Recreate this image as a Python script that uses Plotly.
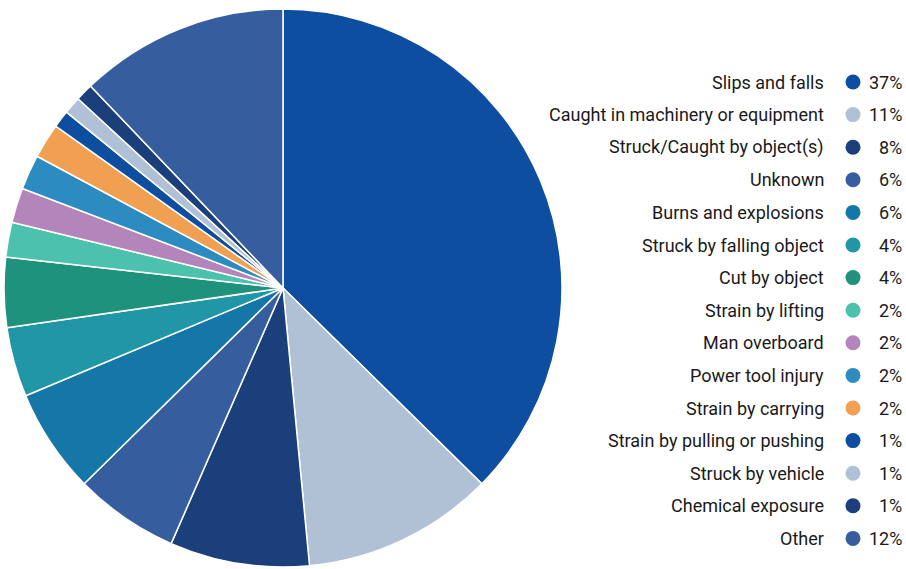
import plotly.graph_objects as go

W, H = 906, 569

categories = [
    "Slips and falls",
    "Caught in machinery or equipment",
    "Struck/Caught by object(s)",
    "Unknown",
    "Burns and explosions",
    "Struck by falling object",
    "Cut by object",
    "Strain by lifting",
    "Man overboard",
    "Power tool injury",
    "Strain by carrying",
    "Strain by pulling or pushing",
    "Struck by vehicle",
    "Chemical exposure",
    "Other",
]
shares = [37, 11, 8, 6, 6, 4, 4, 2, 2, 2, 2, 1, 1, 1, 12]
colors = [
    "#0E4EA0", "#B0C1D6", "#1A3F7A", "#365E9E", "#1477A8",
    "#2196A6", "#1E927C", "#4BC1AE", "#B385BA", "#2C8CC1",
    "#F0A050", "#0E4EA0", "#B0C1D6", "#1A3F7A", "#365E9E",
]

# pie geometry (pixels)
cx, cy, r = 283, 288, 279

fig = go.Figure()
fig.add_trace(go.Pie(
    labels=categories,
    values=shares,
    marker=dict(colors=colors, line=dict(color="white", width=1.5)),
    sort=False,
    direction="clockwise",
    rotation=0,
    textinfo="none",
    hoverinfo="label+percent",
    showlegend=False,
    domain=dict(x=[(cx - r) / W, (cx + r) / W],
                y=[(H - cy - r) / H, (H - cy + r) / H]),
))

# custom legend: label, dot, percentage
row0, step = 82, 32.6
label_x, dot_x, pct_x = 826, 853, 904
rows = [row0 + i * step for i in range(len(categories))]

fig.add_trace(go.Scatter(
    x=[dot_x] * len(categories), y=rows, mode="markers",
    marker=dict(size=15, color=colors),
    hoverinfo="skip", showlegend=False, xaxis="x", yaxis="y",
))

text_font = dict(size=18, color="#1a1a1a", family="Roboto")
annotations = []
for name, val, y in zip(categories, shares, rows):
    annotations.append(dict(x=label_x, y=y, xref="x", yref="y", text=name,
                            showarrow=False, xanchor="right", yanchor="middle",
                            font=text_font))
    annotations.append(dict(x=pct_x, y=y, xref="x", yref="y", text=f"{val}%",
                            showarrow=False, xanchor="right", yanchor="middle",
                            font=text_font))

fig.update_layout(
    width=W, height=H,
    margin=dict(l=0, r=0, t=0, b=0),
    paper_bgcolor="white", plot_bgcolor="rgba(0,0,0,0)",
    xaxis=dict(range=[0, W], visible=False, fixedrange=True),
    yaxis=dict(range=[H, 0], visible=False, fixedrange=True),
    annotations=annotations,
    font=dict(family="Roboto"),
)

fig.write_html("out.html")
